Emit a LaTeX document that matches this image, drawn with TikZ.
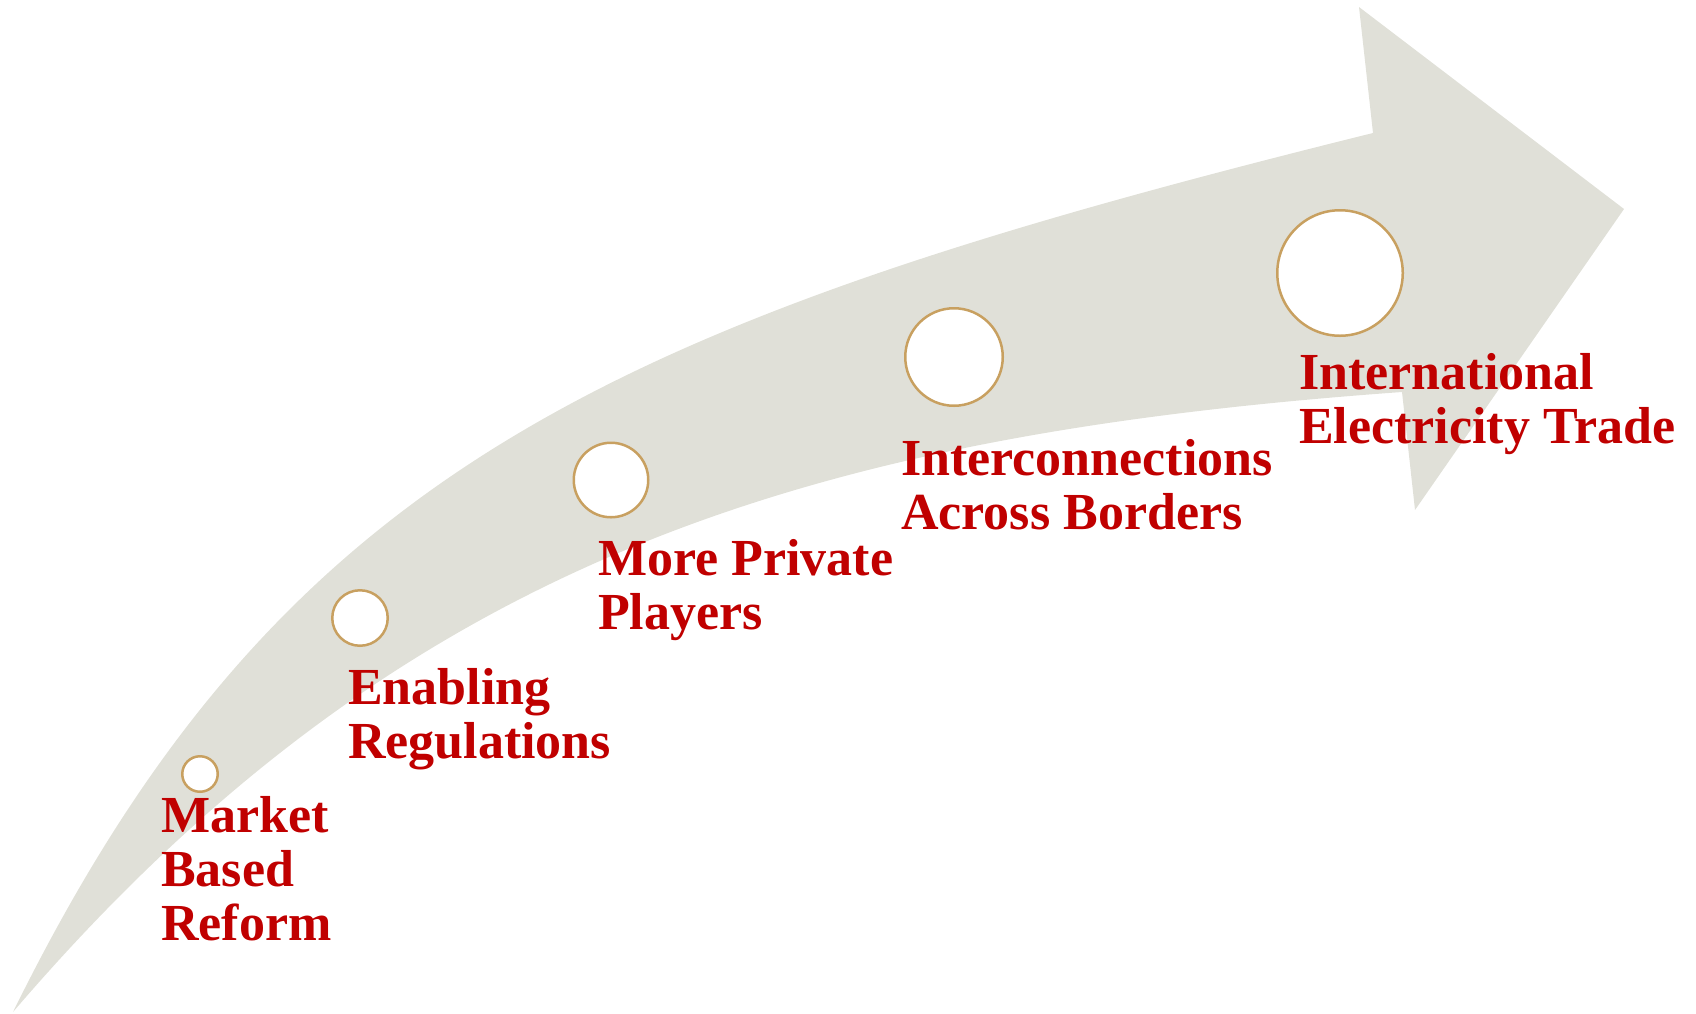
\documentclass[tikz,border=0pt]{standalone}
\usepackage{fontspec}
\setmainfont{Liberation Serif}
\definecolor{band}{RGB}{224,224,216}
\definecolor{ring}{RGB}{200,160,96}
\definecolor{label}{RGB}{192,0,0}
\newcommand{\lines}[1]{\begin{tabular}[t]{@{}l@{}}#1\end{tabular}}
\begin{document}
\begin{tikzpicture}[x=1pt,y=-1pt,
  milestone/.style={circle,draw=ring,line width=2.5pt,fill=white,inner sep=0pt},
  caption/.style={anchor=base west,inner sep=0pt,text=label,
    font=\fontsize{52}{54}\selectfont\bfseries}]
\useasboundingbox (0,0) rectangle (1696,1013);

% curved band ending in an arrow head
\coordinate (tail) at (13,1012);
\coordinate (notchA) at (1373,133);
\coordinate (notchB) at (1402,392);
\fill[band]
  (tail) .. controls (280,470) and (610,322) .. (notchA)
  -- (1359,7) -- (1624,209) -- (1415,510) -- (notchB)
  .. controls (805,435) and (400,560) .. (tail)
  -- cycle;

% milestones, growing along the band
\node[milestone,minimum size=35.5pt]  (m1) at (200,774)  {};
\node[milestone,minimum size=55.5pt]  (m2) at (360,618)  {};
\node[milestone,minimum size=74.5pt]  (m3) at (611,480)  {};
\node[milestone,minimum size=97.5pt]  (m4) at (954,357)  {};
\node[milestone,minimum size=125.5pt] (m5) at (1340,273) {};

% captions
\node[caption] (t1) at (161,832)  {\lines{Market\\Based\\Reform}};
\node[caption] (t2) at (348,704)  {\lines{Enabling\\Regulations}};
\node[caption] (t3) at (598,575)  {\lines{More Private\\Players}};
\node[caption] (t4) at (901,475)  {\lines{Interconnections\\Across Borders}};
\node[caption] (t5) at (1299,389) {\lines{International\\Electricity Trade}};
\end{tikzpicture}
\end{document}
